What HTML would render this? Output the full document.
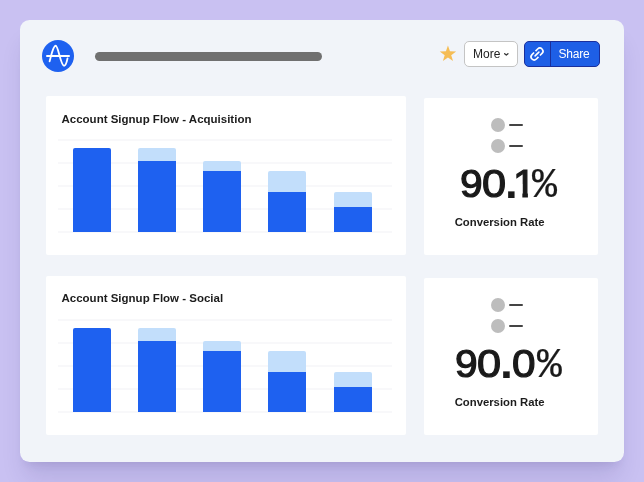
<!DOCTYPE html>
<html lang="en">
<head>
<meta charset="utf-8">
<title>Dashboard</title>
<style>
*{box-sizing:border-box;margin:0;padding:0}
html,body{width:644px;height:482px;overflow:hidden}
body{background:#c9c1f2;font-family:"Liberation Sans",sans-serif;position:relative;color:#1a1a1a}
.card{position:absolute;left:20px;top:20px;width:604px;height:442px;background:#f1f4f9;border-radius:9.5px;box-shadow:0 20px 25px -5px rgba(25,15,90,.12),0 8px 10px -6px rgba(25,15,90,.1)}
.abs{position:absolute}
.logo{left:42px;top:40px;width:32px;height:32px}
.titlebar{left:95px;top:52px;width:227px;height:9px;border-radius:5px;background:#707070}
.star{left:438px;top:44px;width:20px;height:20px}
.btn{top:41px;height:26px;border-radius:4px;font-size:12px;line-height:24px}
.more{left:464px;width:54px;background:#fff;border:1px solid #c4c4c4;color:#222;border-radius:5px}
.more span{position:absolute;left:8px;top:.4px}
.more svg{position:absolute;left:39.4px;top:10.8px}
.share{left:524px;width:76px;background:#1e5fe6;border:1px solid #1a2f9c;color:#fff;border-radius:5px}
.share .div{position:absolute;left:25px;top:0;width:1px;height:24px;background:#1a2f9c}
.share span{position:absolute;left:33.5px;top:0;letter-spacing:-.2px}
.share svg{position:absolute;left:.1px;top:-.1px}
.panel{background:#fff;border-radius:2px}
.ptitle{font-weight:bold;font-size:11.5px;line-height:14px;white-space:nowrap;color:#1c1c1c}
.grid{height:2px;background:#f8f8fa;left:58px;width:334px}
.bar{background:#1e61f0;width:38px}
.lt{background:#c2defb;width:38px;border-radius:2px 2px 0 0}
.r2{border-radius:2px 2px 0 0}
.dot{width:14px;height:14px;border-radius:50%;background:#bdbdbd}
.dash{width:14px;height:2px;background:#444;border-radius:1px}
.big{white-space:nowrap;color:#1a1a1a;font-size:0;line-height:0;height:50px;font-weight:normal}
.big span{display:inline-block;vertical-align:top;position:relative;height:46px;transform-origin:0 0}
.big .one{clip-path:polygon(0 0,14.2px 0,14.2px 100%,8.9px 100%,8.9px 20px,0 20px)}
.lbl{font-weight:bold;font-size:11.3px;line-height:14px;white-space:nowrap;color:#1c1c1c}
</style>
</head>
<body>
<div class="card"></div>

<svg class="abs logo" viewBox="0 0 32 32">
  <circle cx="16" cy="16" r="16" fill="#1e61f0"/>
  <path d="M5 15.95H27" stroke="#fff" stroke-width="2" stroke-linecap="round" fill="none"/>
  <path d="M7.6 21.3C9.6 14 11.2 5.8 13.6 5.8C16.4 5.8 18.6 25.7 22.1 25.7C23.8 25.7 24.8 22 25.5 18.4" stroke="#fff" stroke-width="1.85" stroke-linecap="round" fill="none"/>
</svg>
<div class="abs titlebar"></div>

<svg class="abs star" viewBox="0 0 20 20"><path d="M9.95 1.47L11.97 7.29L18.13 7.41L13.22 11.13L15.00 17.03L9.95 13.51L4.90 17.03L6.68 11.13L1.77 7.41L7.93 7.29z" fill="#f5bd55"/></svg>

<div class="abs btn more"><span>More</span>
  <svg width="6" height="4" viewBox="0 0 6 4"><path d="M.65.65L2.3 2.05 3.95.65" stroke="#333" stroke-width="1.25" fill="none" stroke-linecap="round" stroke-linejoin="round"/></svg>
</div>
<div class="abs btn share">
  <svg width="24" height="24" viewBox="-12 -12 24 24" fill="none" stroke="#fff" stroke-width="1.6"><g transform="rotate(-45)"><path d="M-1-3.1H-4A3.1 3.1 0 0 0-4 3.1H-1"/><path d="M1-3.1H4A3.1 3.1 0 0 1 4 3.1H1"/><path d="M-2.7 0H2.7" stroke-linecap="round"/></g></svg>
  <div class="div"></div><span>Share</span>
</div>

<!-- panel 1 -->
<div class="abs panel" style="left:46px;top:96px;width:360px;height:159px"></div>
<div class="abs ptitle" style="left:61.5px;top:112.3px">Account Signup Flow - Acquisition</div>
<div class="abs grid" style="top:139px"></div>
<div class="abs grid" style="top:162px"></div>
<div class="abs grid" style="top:185px"></div>
<div class="abs grid" style="top:208px"></div>
<div class="abs grid" style="top:231px"></div>
<div class="abs bar r2" style="left:73px;top:148px;height:84px"></div>
<div class="abs lt" style="left:138px;top:148px;height:84px"></div>
<div class="abs bar" style="left:138px;top:160.5px;height:71.5px"></div>
<div class="abs lt" style="left:203px;top:160.5px;height:71.5px"></div>
<div class="abs bar" style="left:203px;top:171px;height:61px"></div>
<div class="abs lt" style="left:268px;top:171px;height:61px"></div>
<div class="abs bar" style="left:268px;top:191.5px;height:40.5px"></div>
<div class="abs lt" style="left:333.5px;top:192px;height:40px"></div>
<div class="abs bar" style="left:333.5px;top:206.5px;height:25.5px"></div>

<!-- panel 2 -->
<div class="abs panel" style="left:46px;top:276px;width:360px;height:159px"></div>
<div class="abs ptitle" style="left:61.5px;top:291.3px">Account Signup Flow - Social</div>
<div class="abs grid" style="top:319px"></div>
<div class="abs grid" style="top:342px"></div>
<div class="abs grid" style="top:365px"></div>
<div class="abs grid" style="top:388px"></div>
<div class="abs grid" style="top:411px"></div>
<div class="abs bar r2" style="left:73px;top:328px;height:84px"></div>
<div class="abs lt" style="left:138px;top:328px;height:84px"></div>
<div class="abs bar" style="left:138px;top:340.5px;height:71.5px"></div>
<div class="abs lt" style="left:203px;top:340.5px;height:71.5px"></div>
<div class="abs bar" style="left:203px;top:351px;height:61px"></div>
<div class="abs lt" style="left:268px;top:351px;height:61px"></div>
<div class="abs bar" style="left:268px;top:371.5px;height:40.5px"></div>
<div class="abs lt" style="left:333.5px;top:372px;height:40px"></div>
<div class="abs bar" style="left:333.5px;top:386.5px;height:25.5px"></div>

<!-- metric 1 -->
<div class="abs panel" style="left:424px;top:98px;width:174px;height:157px"></div>
<div class="abs dot" style="left:491.2px;top:118.2px"></div>
<div class="abs dash" style="left:509.3px;top:124.1px"></div>
<div class="abs dot" style="left:491.2px;top:139.2px"></div>
<div class="abs dash" style="left:509.3px;top:145.2px"></div>
<div class="abs big" style="left:459.79px;top:160px"><span style="width:22.10px;top:4.15px;font-size:39px;line-height:39px;-webkit-text-stroke:1.2px #1a1a1a;transform:scaleX(1.044)">9</span><span style="width:22.89px;top:4.15px;font-size:39px;line-height:39px;-webkit-text-stroke:1.2px #1a1a1a;transform:scaleX(1.109)">0</span><span style="width:7.78px;top:1.05px;font-size:44px;line-height:44px;font-weight:bold;transform:scaleX(1.040)">.</span><span class="one" style="width:19.54px;top:4.05px;font-size:39px;line-height:39px;-webkit-text-stroke:1.2px #1a1a1a;transform:scaleX(1.050)">1</span><span style="width:30.00px;top:5.1px;font-size:42.5px;line-height:42.5px;font-family:'Liberation Mono',monospace;-webkit-text-stroke:0.2px #1a1a1a;transform:scaleX(0.980)">%</span></div>
<div class="abs lbl" style="left:454.7px;top:214.8px">Conversion Rate</div>

<!-- metric 2 -->
<div class="abs panel" style="left:424px;top:278px;width:174px;height:157px"></div>
<div class="abs dot" style="left:491.2px;top:298.2px"></div>
<div class="abs dash" style="left:509.3px;top:304.1px"></div>
<div class="abs dot" style="left:491.2px;top:319.2px"></div>
<div class="abs dash" style="left:509.3px;top:325.2px"></div>
<div class="abs big" style="left:454.79px;top:340px"><span style="width:22.10px;top:4.15px;font-size:39px;line-height:39px;-webkit-text-stroke:1.2px #1a1a1a;transform:scaleX(1.044)">9</span><span style="width:22.84px;top:4.15px;font-size:39px;line-height:39px;-webkit-text-stroke:1.2px #1a1a1a;transform:scaleX(1.109)">0</span><span style="width:12.19px;top:1.05px;font-size:44px;line-height:44px;font-weight:bold;transform:scaleX(1.056)">.</span><span style="width:25.28px;top:4.15px;font-size:39px;line-height:39px;-webkit-text-stroke:1.2px #1a1a1a;transform:scaleX(1.084)">0</span><span style="width:30.00px;top:5.1px;font-size:42.5px;line-height:42.5px;font-family:'Liberation Mono',monospace;-webkit-text-stroke:0.2px #1a1a1a;transform:scaleX(0.973)">%</span></div>
<div class="abs lbl" style="left:454.7px;top:394.8px">Conversion Rate</div>
</body>
</html>
